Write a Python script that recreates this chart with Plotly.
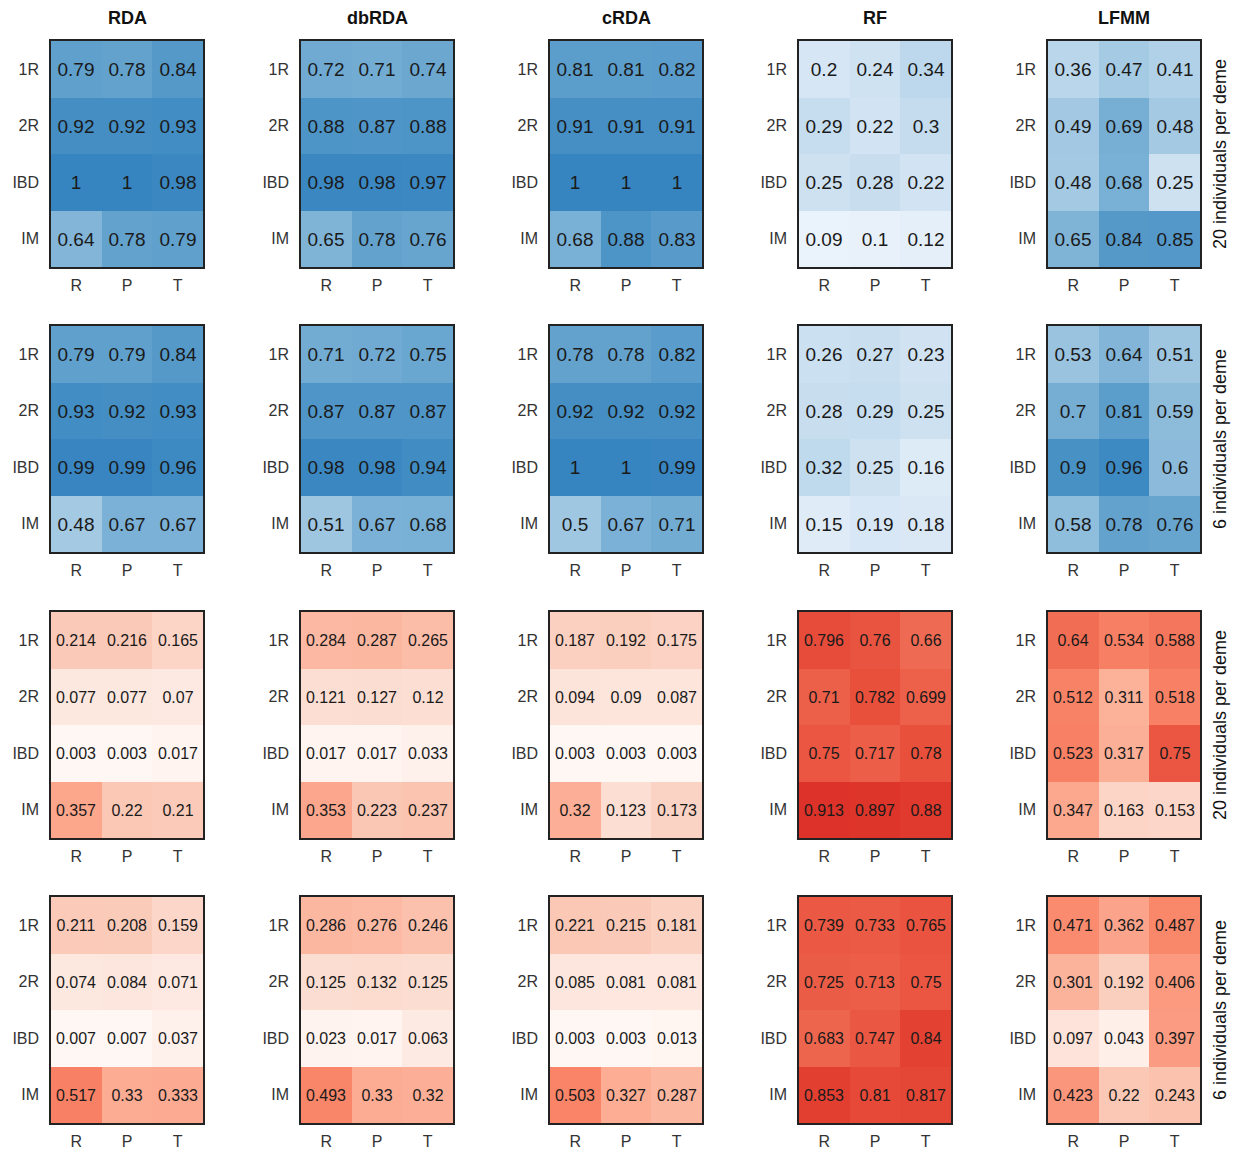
import plotly.graph_objects as go

methods = ["RDA", "dbRDA", "cRDA", "RF", "LFMM"]
row_cats = ["1R", "2R", "IBD", "IM"]
col_cats = ["R", "P", "T"]
side_labels = ["20 individuals per deme", "6 individuals per deme",
               "20 individuals per deme", "6 individuals per deme"]

# Panel row 1: 20 individuals per deme (blue)
p20_RDA = [[0.79, 0.78, 0.84], [0.92, 0.92, 0.93], [1, 1, 0.98], [0.64, 0.78, 0.79]]
p20_dbRDA = [[0.72, 0.71, 0.74], [0.88, 0.87, 0.88], [0.98, 0.98, 0.97], [0.65, 0.78, 0.76]]
p20_cRDA = [[0.81, 0.81, 0.82], [0.91, 0.91, 0.91], [1, 1, 1], [0.68, 0.88, 0.83]]
p20_RF = [[0.2, 0.24, 0.34], [0.29, 0.22, 0.3], [0.25, 0.28, 0.22], [0.09, 0.1, 0.12]]
p20_LFMM = [[0.36, 0.47, 0.41], [0.49, 0.69, 0.48], [0.48, 0.68, 0.25], [0.65, 0.84, 0.85]]

# Panel row 2: 6 individuals per deme (blue)
p6_RDA = [[0.79, 0.79, 0.84], [0.93, 0.92, 0.93], [0.99, 0.99, 0.96], [0.48, 0.67, 0.67]]
p6_dbRDA = [[0.71, 0.72, 0.75], [0.87, 0.87, 0.87], [0.98, 0.98, 0.94], [0.51, 0.67, 0.68]]
p6_cRDA = [[0.78, 0.78, 0.82], [0.92, 0.92, 0.92], [1, 1, 0.99], [0.5, 0.67, 0.71]]
p6_RF = [[0.26, 0.27, 0.23], [0.28, 0.29, 0.25], [0.32, 0.25, 0.16], [0.15, 0.19, 0.18]]
p6_LFMM = [[0.53, 0.64, 0.51], [0.7, 0.81, 0.59], [0.9, 0.96, 0.6], [0.58, 0.78, 0.76]]

# Panel row 3: 20 individuals per deme (red)
f20_RDA = [[0.214, 0.216, 0.165], [0.077, 0.077, 0.07], [0.003, 0.003, 0.017], [0.357, 0.22, 0.21]]
f20_dbRDA = [[0.284, 0.287, 0.265], [0.121, 0.127, 0.12], [0.017, 0.017, 0.033], [0.353, 0.223, 0.237]]
f20_cRDA = [[0.187, 0.192, 0.175], [0.094, 0.09, 0.087], [0.003, 0.003, 0.003], [0.32, 0.123, 0.173]]
f20_RF = [[0.796, 0.76, 0.66], [0.71, 0.782, 0.699], [0.75, 0.717, 0.78], [0.913, 0.897, 0.88]]
f20_LFMM = [[0.64, 0.534, 0.588], [0.512, 0.311, 0.518], [0.523, 0.317, 0.75], [0.347, 0.163, 0.153]]

# Panel row 4: 6 individuals per deme (red)
f6_RDA = [[0.211, 0.208, 0.159], [0.074, 0.084, 0.071], [0.007, 0.007, 0.037], [0.517, 0.33, 0.333]]
f6_dbRDA = [[0.286, 0.276, 0.246], [0.125, 0.132, 0.125], [0.023, 0.017, 0.063], [0.493, 0.33, 0.32]]
f6_cRDA = [[0.221, 0.215, 0.181], [0.085, 0.081, 0.081], [0.003, 0.003, 0.013], [0.503, 0.327, 0.287]]
f6_RF = [[0.739, 0.733, 0.765], [0.725, 0.713, 0.75], [0.683, 0.747, 0.84], [0.853, 0.81, 0.817]]
f6_LFMM = [[0.471, 0.362, 0.487], [0.301, 0.192, 0.406], [0.097, 0.043, 0.397], [0.423, 0.22, 0.243]]

grid = [
    [p20_RDA, p20_dbRDA, p20_cRDA, p20_RF, p20_LFMM],
    [p6_RDA, p6_dbRDA, p6_cRDA, p6_RF, p6_LFMM],
    [f20_RDA, f20_dbRDA, f20_cRDA, f20_RF, f20_LFMM],
    [f6_RDA, f6_dbRDA, f6_cRDA, f6_RF, f6_LFMM],
]

blues = [[0.0, "rgb(247,251,255)"], [0.1, "rgb(232,241,250)"], [0.25, "rgb(205,225,241)"],
         [0.4, "rgb(178,210,232)"], [0.5, "rgb(160,199,226)"], [0.65, "rgb(128,180,215)"],
         [0.8, "rgb(94,159,204)"], [0.92, "rgb(68,142,196)"], [1.0, "rgb(54,132,192)"]]
reds = [[0.0, "rgb(255,248,245)"], [0.08, "rgb(253,231,222)"], [0.2, "rgb(251,205,188)"],
        [0.33, "rgb(252,172,147)"], [0.5, "rgb(249,132,103)"], [0.65, "rgb(240,108,84)"],
        [0.78, "rgb(232,80,60)"], [0.9, "rgb(222,52,42)"], [1.0, "rgb(212,38,33)"]]

W, H = 1238, 1149
x_lefts = [51, 301, 550, 799, 1048]
pw = 152
y_tops = [41, 326, 612, 897]
ph = 226

FONT = "Liberation Sans, Arial, sans-serif"
fig = go.Figure()
layout = {}
annotations = []

k = 0
for r in range(4):
    for c in range(5):
        k += 1
        xa = "x" if k == 1 else f"x{k}"
        ya = "y" if k == 1 else f"y{k}"
        z = grid[r][c]
        txt = [[f"{v:g}" for v in row] for row in z]
        fig.add_trace(go.Heatmap(
            z=z, x=col_cats, y=row_cats, text=txt, texttemplate="%{text}",
            textfont=dict(size=19 if r < 2 else 16, color="#1a1a1a", family=FONT),
            colorscale=blues if r < 2 else reds, zmin=0, zmax=1, showscale=False,
            xgap=0, ygap=0, xaxis=xa, yaxis=ya, hoverinfo="skip"))
        x0 = x_lefts[c] / W
        x1 = (x_lefts[c] + pw) / W
        y1 = 1 - y_tops[r] / H
        y0 = 1 - (y_tops[r] + ph) / H
        axname_x = "xaxis" if k == 1 else f"xaxis{k}"
        axname_y = "yaxis" if k == 1 else f"yaxis{k}"
        layout[axname_x] = dict(domain=[x0, x1], anchor=ya, showgrid=False, zeroline=False,
                                showline=True, mirror=True, linecolor="#222", linewidth=1.5,
                                ticks="", ticklabelstandoff=3,
                                tickfont=dict(size=16, color="#333", family=FONT),
                                fixedrange=True)
        layout[axname_y] = dict(domain=[y0, y1], anchor=xa, showgrid=False, zeroline=False,
                                showline=True, mirror=True, linecolor="#222", linewidth=1.5,
                                ticks="", ticklabelstandoff=7, autorange="reversed",
                                tickfont=dict(size=16, color="#333", family=FONT),
                                fixedrange=True)
        if r == 0:
            annotations.append(dict(text=f"<b>{methods[c]}</b>", x=(x0 + x1) / 2, y=1 - 18 / H,
                                    xref="paper", yref="paper", showarrow=False,
                                    font=dict(size=18, color="#111", family=FONT),
                                    xanchor="center", yanchor="middle"))
    annotations.append(dict(text=side_labels[r], x=1220 / W, y=1 - (y_tops[r] + ph / 2) / H,
                            xref="paper", yref="paper", showarrow=False, textangle=-90,
                            font=dict(size=18, color="#111", family=FONT),
                            xanchor="center", yanchor="middle"))

fig.update_layout(width=W, height=H, margin=dict(l=0, r=0, t=0, b=0),
                  paper_bgcolor="white", plot_bgcolor="white",
                  annotations=annotations, **layout)
fig.write_html("out.html", config={"displayModeBar": False},
               post_script="document.body.style.margin='0';document.body.style.overflow='hidden';")
